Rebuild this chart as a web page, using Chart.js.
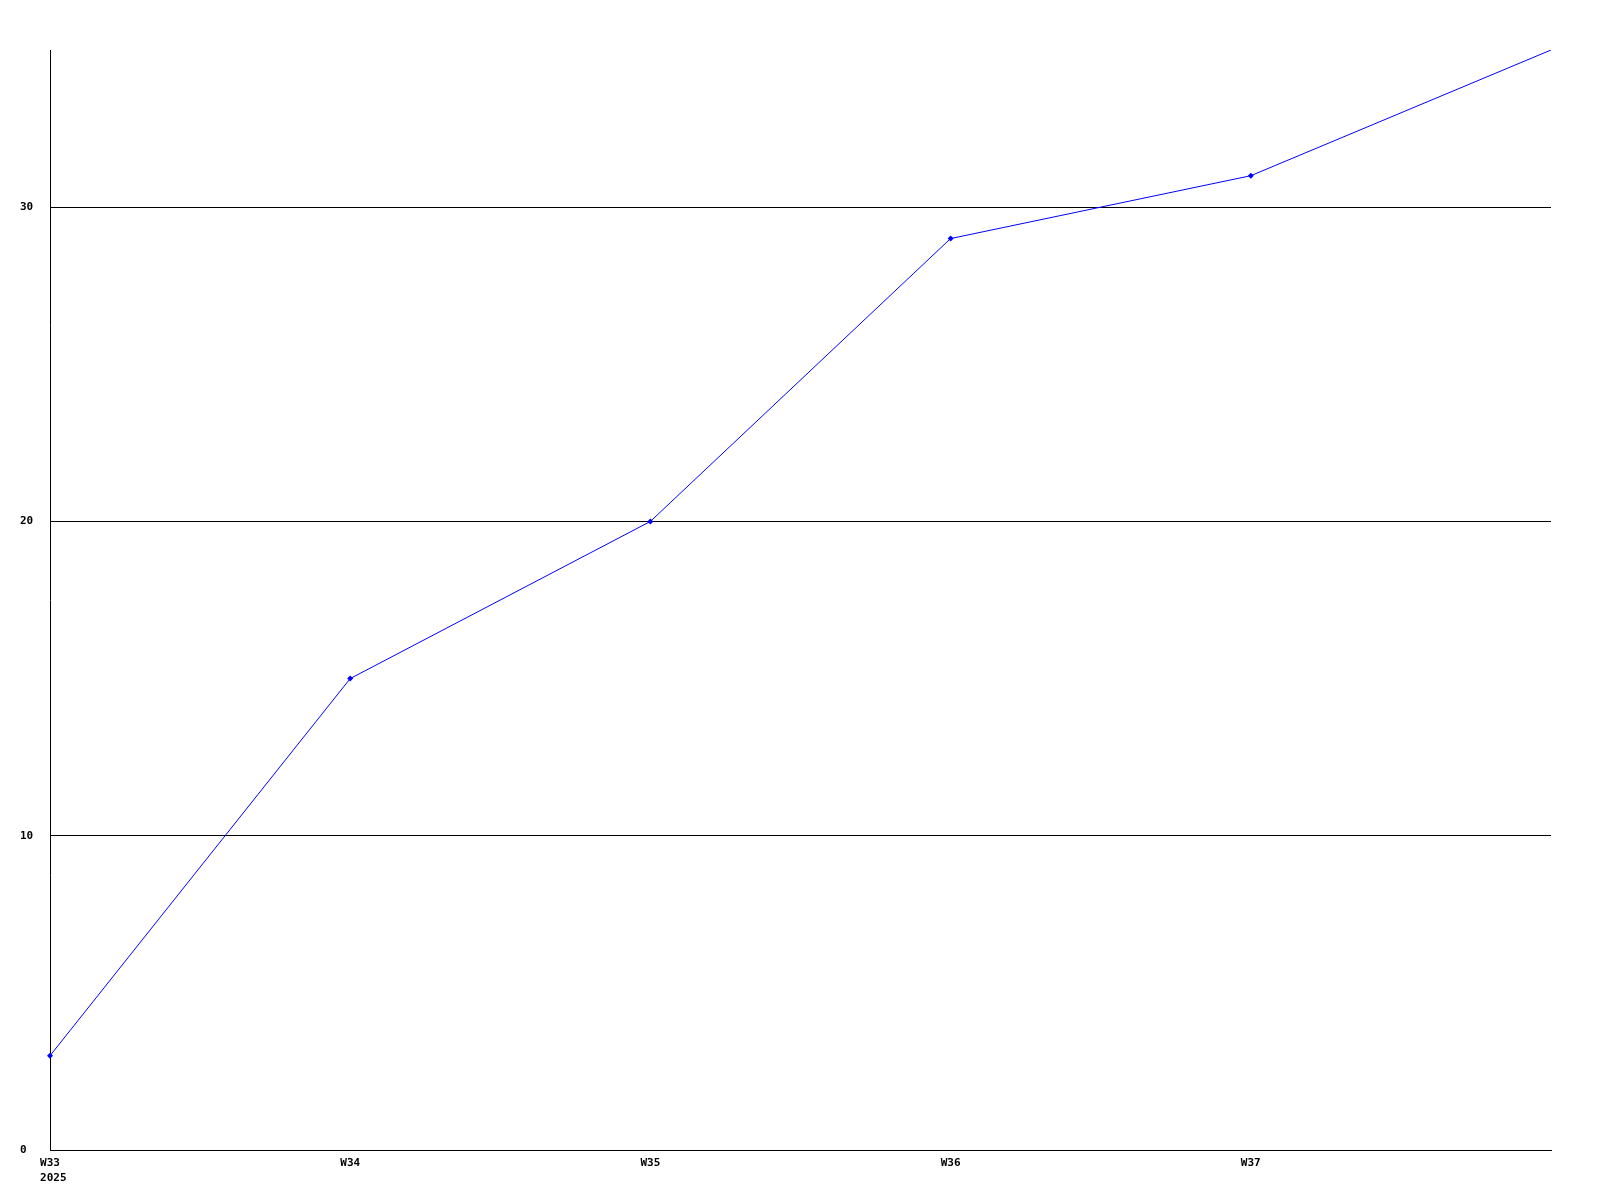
<!DOCTYPE html>
<html>
<head>
<meta charset="utf-8">
<script src="https://cdn.jsdelivr.net/npm/chart.js@4/dist/chart.umd.min.js"></script>
<style>
html,body{margin:0;padding:0;background:#fff;}
#wrap{width:1600px;height:1200px;}
</style>
</head>
<body>
<div id="wrap"><canvas id="c" width="1600" height="1200"></canvas></div>
<script>
const weeks = ["W33", "W34", "W35", "W36", "W37", ""];
const yearLabel = "2025";
const values = [3, 15, 20, 29, 31, 35];
const yTicks = [0, 10, 20, 30];
const yMax = 35;

const labels = weeks.map((w, i) => i === 0 ? [w, " " + yearLabel] : w);
const pointRadii = values.map((v, i) => i === values.length - 1 ? 0 : 3);

const font = { family: "'DejaVu Sans Mono', monospace", size: 11, weight: 'bold', lineHeight: 1.35 };

new Chart(document.getElementById('c'), {
  type: 'line',
  data: {
    labels: labels,
    datasets: [{
      data: values,
      borderColor: '#0000ff',
      backgroundColor: '#0000ff',
      borderWidth: 1,
      pointStyle: 'rectRot',
      pointRadius: pointRadii,
      pointHoverRadius: pointRadii,
      pointBorderWidth: 0,
      tension: 0,
      fill: false
    }]
  },
  options: {
    responsive: false,
    animation: false,
    devicePixelRatio: 1,
    layout: { padding: { left: 20, top: 50, right: 49, bottom: 0 } },
    plugins: { legend: { display: false }, tooltip: { enabled: false }, title: { display: false } },
    scales: {
      x: {
        offset: false,
        grid: { display: false, drawTicks: false },
        border: { display: true, color: '#000', width: 1 },
        ticks: { color: '#000', font: font, padding: 6, maxRotation: 0, autoSkip: false },
        afterFit: s => { s.height = 50; }
      },
      y: {
        min: 0,
        max: yMax,
        grid: { color: '#000', lineWidth: 1, drawTicks: false },
        border: { display: true, color: '#000', width: 1 },
        ticks: { color: '#000', font: font, crossAlign: 'far', padding: 0 },
        afterBuildTicks: s => { s.ticks = yTicks.map(v => ({ value: v })); },
        afterFit: s => { s.width = 30; }
      }
    }
  }
});
</script>
</body>
</html>
